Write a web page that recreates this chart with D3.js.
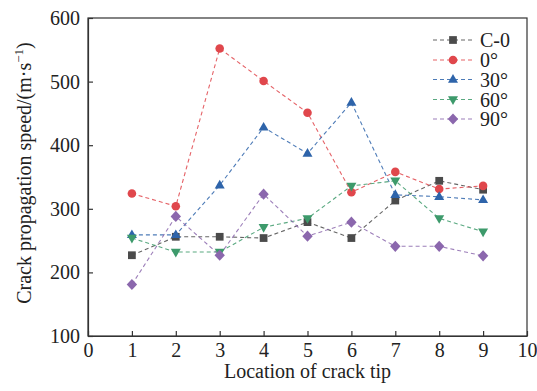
<!DOCTYPE html>
<html>
<head>
<meta charset="utf-8">
<script src="https://cdn.jsdelivr.net/npm/d3@7"></script>
<style>
  html, body { margin: 0; padding: 0; background: #fff; }
</style>
</head>
<body>
<svg id="chart" width="537" height="391"></svg>
<script>
// Crack tip locations along the specimen
const locations = [1, 2, 3, 4, 5, 6, 7, 8, 9];

// Crack propagation speed (m/s) for each specimen
const seriesNames = ["C-0", "0°", "30°", "60°", "90°"];
const speedC0  = [227, 256, 256, 254, 279, 254, 313, 344, 330];
const speed0   = [324, 304, 552, 501, 451, 326, 358, 331, 336];
const speed30  = [259, 259, 337, 428, 387, 467, 322, 319, 314];
const speed60  = [254, 232, 232, 271, 285, 336, 344, 285, 264];
const speed90  = [181, 288, 227, 323, 257, 279, 241, 241, 226];

// Axis ticks
const xTicks = [0, 1, 2, 3, 4, 5, 6, 7, 8, 9, 10];
const yTicks = [100, 200, 300, 400, 500, 600];

const colors  = ["#4b4b4b", "#e0474c", "#2e64aa", "#3d9a6b", "#8b67ad"];
const symbols = ["square", "circle", "triangle", "triangleDown", "diamond"];
const allSpeeds = [speedC0, speed0, speed30, speed60, speed90];

const FONT = "'Liberation Serif', 'Times New Roman', serif";
const margin = { left: 88, right: 10, top: 18, bottom: 55 };
const W = 537, H = 391;
const svg = d3.select("#chart");

const x = d3.scaleLinear().domain([0, 10]).range([margin.left, W - margin.right]);
const y = d3.scaleLinear().domain([100, 600]).range([H - margin.bottom, margin.top]);

// Marker shapes
function markerPath(kind) {
  switch (kind) {
    case "square": return d3.symbol(d3.symbolSquare, 60)();
    case "circle": return d3.symbol(d3.symbolCircle, 58)();
    case "triangle": return "M0,-5.5L5,3.2L-5,3.2Z";
    case "triangleDown": return "M0,5.5L5,-3.2L-5,-3.2Z";
    case "diamond": return "M0,-5.6L5.2,0L0,5.6L-5.2,0Z";
  }
}

// Frame
svg.append("rect")
  .attr("x", x(0)).attr("y", y(600))
  .attr("width", x(10) - x(0)).attr("height", y(100) - y(600))
  .attr("fill", "none").attr("stroke", "#333").attr("stroke-width", 1.2);

// Axes with inward ticks
const xAxis = svg.append("g")
  .attr("transform", `translate(0,${y(100)})`)
  .call(d3.axisBottom(x).tickValues(xTicks).tickSizeInner(-5).tickSizeOuter(0).tickPadding(7).tickFormat(d3.format("d")));
const yAxis = svg.append("g")
  .attr("transform", `translate(${x(0)},0)`)
  .call(d3.axisLeft(y).tickValues(yTicks).tickSizeInner(-5).tickSizeOuter(0).tickPadding(8).tickFormat(d3.format("d")));
[xAxis, yAxis].forEach(g => {
  g.attr("font-family", null).attr("font-size", null);
  g.select(".domain").attr("stroke", "#333").attr("stroke-width", 1.2);
  g.selectAll(".tick line").attr("stroke", "#333").attr("stroke-width", 1.2);
  g.selectAll(".tick text")
    .style("font-family", FONT)
    .style("font-size", "20px").attr("fill", "#222");
});

// Axis titles
svg.append("text")
  .attr("x", (x(0) + x(10)) / 2).attr("y", 378)
  .attr("text-anchor", "middle")
  .style("font-family", FONT).style("font-size", "20px").attr("fill", "#222")
  .text("Location of crack tip");

const yTitle = svg.append("text")
  .attr("transform", `translate(31,${173}) rotate(-90)`)
  .attr("text-anchor", "middle")
  .style("font-family", FONT).style("font-size", "20px").attr("fill", "#222");
yTitle.append("tspan").text("Crack propagation speed/(m·s");
yTitle.append("tspan").style("font-size", "13px").attr("dy", -8).text("−1");
yTitle.append("tspan").attr("dy", 8).text(")");

// Series lines and markers
const line = d3.line().x((d, i) => x(locations[i])).y(d => y(d));
allSpeeds.forEach((vals, k) => {
  svg.append("path")
    .datum(vals)
    .attr("d", line)
    .attr("fill", "none")
    .attr("stroke", colors[k])
    .attr("stroke-opacity", 0.85)
    .attr("stroke-width", 1.1)
    .attr("stroke-dasharray", "4,3");
});
allSpeeds.forEach((vals, k) => {
  svg.append("g").selectAll("path")
    .data(vals)
    .join("path")
    .attr("d", markerPath(symbols[k]))
    .attr("transform", (d, i) => `translate(${x(locations[i])},${y(d)})`)
    .attr("fill", colors[k]);
});

// Legend
const legend = svg.append("g");
const legY = [40, 60, 79.5, 99.5, 119];
seriesNames.forEach((name, k) => {
  const g = legend.append("g").attr("transform", `translate(0,${legY[k]})`);
  g.append("line").attr("x1", 433).attr("x2", 472).attr("y1", 0).attr("y2", 0)
    .attr("stroke", colors[k]).attr("stroke-opacity", 0.85).attr("stroke-width", 1.1).attr("stroke-dasharray", "4,3");
  g.append("path").attr("d", markerPath(symbols[k])).attr("transform", "translate(453,0)").attr("fill", colors[k]);
  g.append("text").attr("x", 480).attr("y", 7)
    .style("font-family", FONT).style("font-size", "20px").attr("fill", "#222")
    .text(name);
});
</script>
</body>
</html>
